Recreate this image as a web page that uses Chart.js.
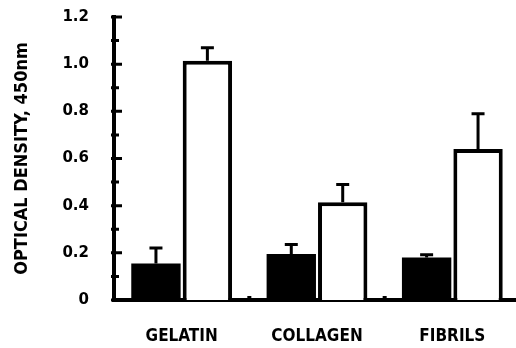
<!DOCTYPE html>
<html>
<head>
<meta charset="utf-8">
<script src="https://cdn.jsdelivr.net/npm/chart.js@4.4.0/dist/chart.umd.min.js"></script>
<style>
    html, body { margin: 0; padding: 0; background: #fff; overflow: hidden; }
    #chart { display: block; margin-top: -9px; }
</style>
</head>
<body>
<canvas id="chart" width="520" height="357"></canvas>
<script>
// Data dari grafik
const categories = ['GELATIN', 'COLLAGEN', 'FIBRILS'];
const solidValues = [0.155, 0.195, 0.18];
const solidErrors = [0.065, 0.04, 0.012];
const openValues = [1.015, 0.415, 0.64];
const openErrors = [0.055, 0.075, 0.15];
const yMajorTicks = [0, 0.2, 0.4, 0.6, 0.8, 1.0, 1.2];

// Garis error bar dengan tutup
const errorBars = {
    id: 'errorBars',
    afterDatasetsDraw(chart) {
        const ctx = chart.ctx;
        const y = chart.scales.y;
        chart.data.datasets.forEach((ds, di) => {
            const meta = chart.getDatasetMeta(di);
            meta.data.forEach((bar, i) => {
                const top = y.getPixelForValue(ds.data[i] + ds.errors[i]);
                ctx.save();
                ctx.strokeStyle = '#000';
                ctx.lineWidth = 3;
                ctx.beginPath();
                ctx.moveTo(bar.x, bar.y);
                ctx.lineTo(bar.x, top);
                ctx.moveTo(bar.x - 6.5, top);
                ctx.lineTo(bar.x + 6.5, top);
                ctx.stroke();
                ctx.restore();
            });
        });
    }
};

// Tick ke dalam pada sumbu y dan tanda pemisah kategori
const axisMarks = {
    id: 'axisMarks',
    afterDraw(chart) {
        const ctx = chart.ctx;
        const y = chart.scales.y;
        const x = chart.scales.x;
        const left = chart.chartArea.left;
        const bottom = chart.chartArea.bottom;
        ctx.save();
        ctx.strokeStyle = '#000';
        ctx.lineWidth = 3;
        ctx.beginPath();
        y.ticks.forEach(t => {
            const py = y.getPixelForValue(t.value);
            const major = Math.round(t.value * 10) % 2 === 0;
            ctx.moveTo(left - 3, py);
            ctx.lineTo(left + (major ? 8 : 5), py);
        });
        ctx.stroke();
        ctx.fillStyle = '#000';
        for (let i = 0; i < categories.length - 1; i++) {
            const px = x.getPixelForValue(i + 0.5);
            ctx.fillRect(px - 2, bottom - 4, 4, 4);
        }
        ctx.restore();
    }
};

new Chart(document.getElementById('chart'), {
    type: 'bar',
    data: {
        labels: categories,
        datasets: [{
            data: solidValues,
            errors: solidErrors,
            backgroundColor: '#000',
            borderWidth: 0,
            categoryPercentage: 0.76,
            barPercentage: 0.96
        }, {
            data: openValues,
            errors: openErrors,
            backgroundColor: '#fff',
            borderColor: '#000',
            borderWidth: 4,
            categoryPercentage: 0.76,
            barPercentage: 0.96
        }]
    },
    options: {
        responsive: false,
        animation: false,
        events: [],
        layout: { padding: { left: 12, top: 0, right: 0, bottom: 0 } },
        plugins: {
            legend: { display: false },
            tooltip: { enabled: false }
        },
        scales: {
            x: {
                offset: true,
                grid: { display: false },
                border: { color: '#000', width: 4 },
                ticks: {
                    color: '#000',
                    font: { family: 'DejaVu Sans Condensed', weight: 'bold', size: 17 },
                    padding: 18
                },
                afterFit(scale) { scale.height = 48; }
            },
            y: {
                min: 0,
                max: 1.2,
                grid: { display: false },
                border: { color: '#000', width: 4 },
                ticks: {
                    stepSize: 0.1,
                    color: '#000',
                    padding: 17,
                    font: { family: 'DejaVu Sans', weight: 'bold', size: 15 },
                    callback: function(value) {
                        const v = Math.round(value * 10) / 10;
                        if (!yMajorTicks.includes(v)) return '';
                        return v === 0 ? '0' : v.toFixed(1);
                    }
                },
                title: {
                    display: true,
                    text: 'OPTICAL DENSITY, 450nm',
                    color: '#000',
                    font: { family: 'DejaVu Sans Condensed', weight: 'bold', size: 18 },
                    padding: 0
                },
                afterFit(scale) { scale.width = 102; }
            }
        }
    },
    plugins: [errorBars, axisMarks]
});
</script>
</body>
</html>
